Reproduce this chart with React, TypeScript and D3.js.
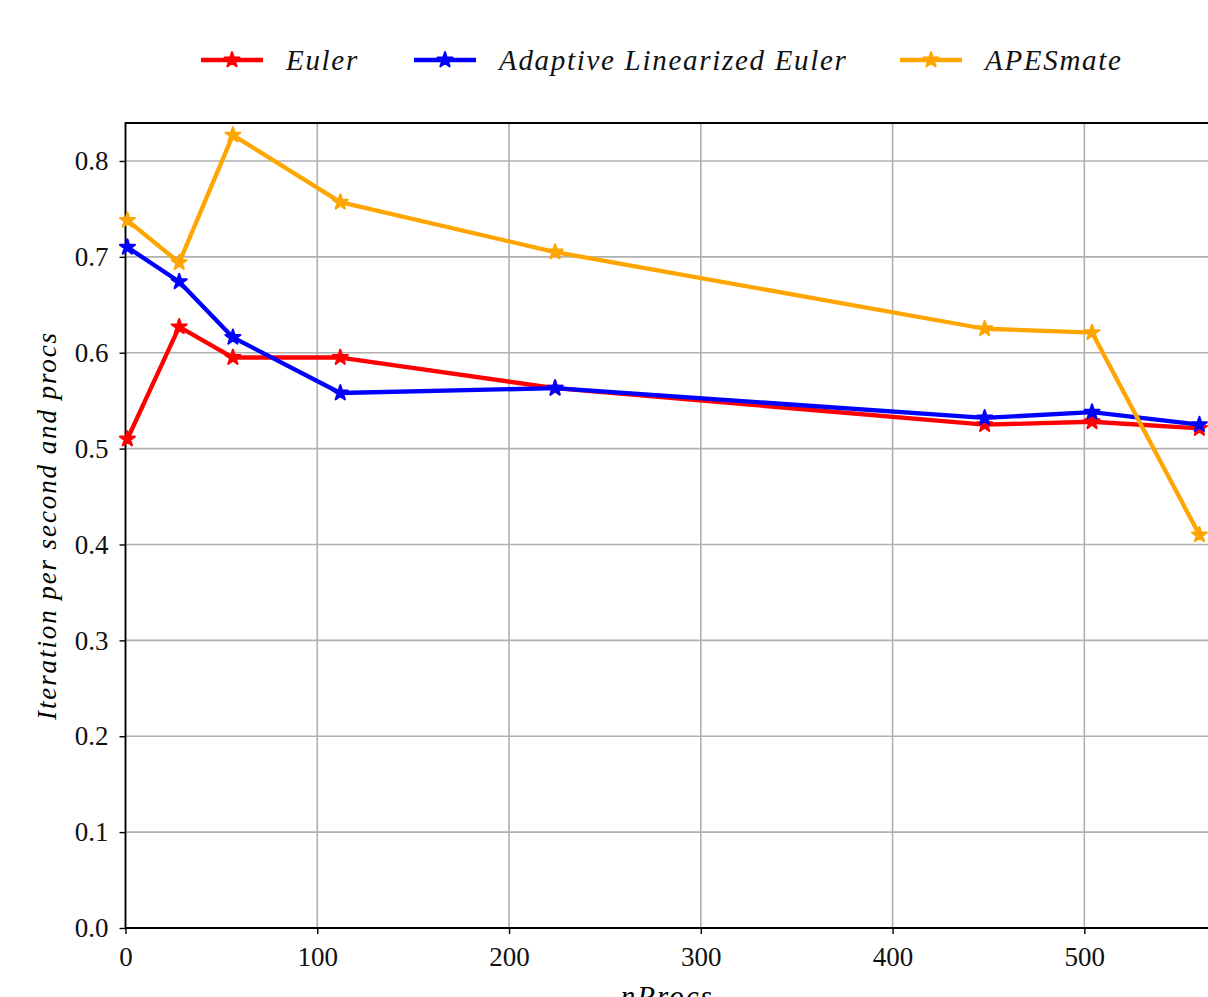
import React, { useEffect, useRef } from "react";
import * as d3 from "d3";

// Values
const nProcs = [1, 28, 56, 112, 224, 448, 504, 560];
const euler = [0.51, 0.627, 0.595, 0.595, 0.563, 0.525, 0.528, 0.521];
const adaptive = [0.71, 0.674, 0.616, 0.558, 0.563, 0.532, 0.538, 0.525];
const apesmate = [0.738, 0.694, 0.827, 0.757, 0.705, 0.625, 0.621, 0.41];
const seriesNames = ["Euler", "Adaptive Linearized Euler", "APESmate"];
const seriesColors = ["#ff0000", "#0000ff", "#ffa500"];
const xTicks = [0, 100, 200, 300, 400, 500];
const yTicks = [0, 0.1, 0.2, 0.3, 0.4, 0.5, 0.6, 0.7, 0.8];

const W = 1208;
const H = 997;
const plot = { left: 125.5, right: 1209, top: 123, bottom: 928 };
const font = "'Liberation Serif', 'DejaVu Serif', serif";

function App() {
  const svgRef = useRef<SVGSVGElement>(null);

  useEffect(() => {
    const svg = d3.select(svgRef.current).html("");

    const x = d3.scaleLinear().domain([0, 565]).range([plot.left, plot.right]);
    const y = d3.scaleLinear().domain([0, 0.8396]).range([plot.bottom, plot.top]);

    svg.append("rect").attr("width", W).attr("height", H).attr("fill", "#fff");

    // grid
    const grid = svg.append("g").attr("stroke", "#b0b0b0").attr("stroke-width", 1.6);
    grid.selectAll(".gx").data(xTicks).enter().append("line")
      .attr("x1", (d) => x(d)).attr("x2", (d) => x(d))
      .attr("y1", plot.top).attr("y2", plot.bottom);
    grid.selectAll(".gy").data(yTicks).enter().append("line")
      .attr("x1", plot.left).attr("x2", plot.right)
      .attr("y1", (d) => y(d)).attr("y2", (d) => y(d));

    // axes
    const xAxis = d3.axisBottom(x).tickValues(xTicks).tickFormat(d3.format("d")).tickSize(6).tickPadding(13);
    const yAxis = d3.axisLeft(y).tickValues(yTicks).tickFormat(d3.format(".1f")).tickSize(6).tickPadding(11);

    const gx = svg.append("g").attr("transform", `translate(0,${plot.bottom})`).call(xAxis);
    const gy = svg.append("g").attr("transform", `translate(${plot.left},0)`).call(yAxis);
    [gx, gy].forEach((g) => {
      g.select(".domain").remove();
      g.selectAll(".tick line").attr("stroke", "#000").attr("stroke-width", 1.4);
      g.selectAll(".tick text").attr("fill", "#111").style("font-family", font).style("font-size", "27px");
    });

    // spines
    svg.append("path")
      .attr("d", `M${plot.right},${plot.top}H${plot.left}V${plot.bottom}H${plot.right}`)
      .attr("fill", "none").attr("stroke", "#000").attr("stroke-width", 1.8);

    // lines
    const allSeries = [euler, adaptive, apesmate];
    const line = d3.line<number>().x((_, i) => x(nProcs[i])).y((d) => y(d));
    const star = d3.symbol().type(d3.symbolStar).size(70);

    allSeries.forEach((vals, k) => {
      const g = svg.append("g");
      g.append("path").datum(vals)
        .attr("d", line).attr("fill", "none")
        .attr("stroke", seriesColors[k]).attr("stroke-width", 4.3)
        .attr("stroke-linejoin", "round");
      g.selectAll("path.mk").data(vals).enter().append("path")
        .attr("class", "mk")
        .attr("d", star)
        .attr("transform", (d, i) => `translate(${x(nProcs[i])},${y(d)})`)
        .attr("fill", seriesColors[k]).attr("stroke", seriesColors[k]).attr("stroke-width", 2)
        .attr("stroke-linejoin", "round");
    });

    // axis labels
    svg.append("text")
      .attr("x", (plot.left + plot.right) / 2).attr("y", 1006)
      .attr("text-anchor", "middle")
      .style("font-family", font).style("font-style", "italic").style("font-size", "29px")
      .style("letter-spacing", "2px")
      .text("nProcs");
    svg.append("text")
      .attr("transform", `translate(56,${(plot.top + plot.bottom) / 2}) rotate(-90)`)
      .attr("text-anchor", "middle")
      .style("font-family", font).style("font-style", "italic").style("font-size", "27px")
      .style("letter-spacing", "1.9px")
      .text("Iteration per second and procs");

    // legend
    const legendX = [201, 414, 900];
    const leg = svg.append("g");
    seriesNames.forEach((name, k) => {
      const lx = legendX[k];
      leg.append("line")
        .attr("x1", lx).attr("x2", lx + 62).attr("y1", 60).attr("y2", 60)
        .attr("stroke", seriesColors[k]).attr("stroke-width", 4.3);
      leg.append("path").attr("d", star)
        .attr("transform", `translate(${lx + 31},60)`)
        .attr("fill", seriesColors[k]).attr("stroke", seriesColors[k]).attr("stroke-width", 2)
        .attr("stroke-linejoin", "round");
      leg.append("text")
        .attr("x", lx + 85).attr("y", 70)
        .style("font-family", font).style("font-style", "italic").style("font-size", "29px")
        .style("letter-spacing", "1.7px")
        .attr("fill", "#111")
        .text(name);
    });
  }, []);

  return (
    <div style={{ position: "absolute", left: 0, top: 0, width: W, height: H, overflow: "hidden" }}>
      <svg ref={svgRef} width={W} height={H}></svg>
    </div>
  );
}

export default App;
